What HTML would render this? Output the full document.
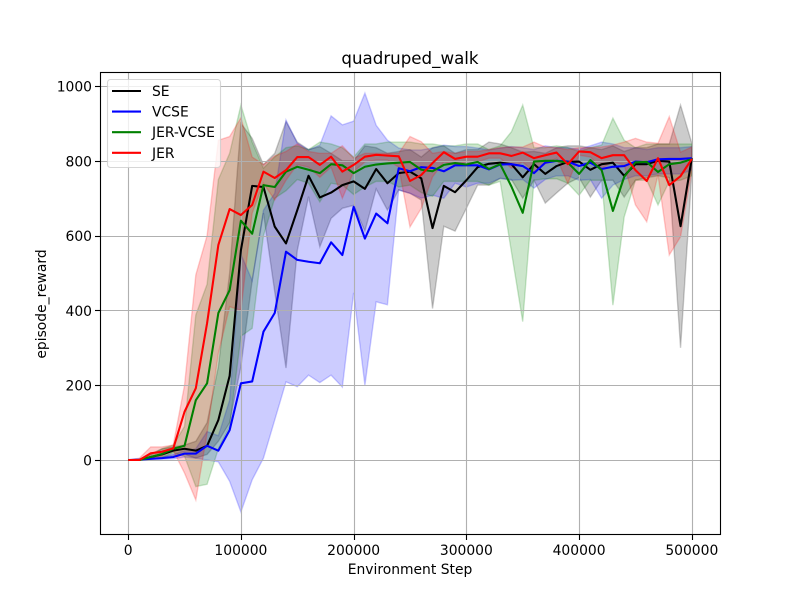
<!DOCTYPE html>
<html>
<head>
<meta charset="utf-8">
<title>quadruped_walk</title>
<style>
html,body{margin:0;padding:0;background:#fff}
svg{display:block}
text{font-family:"DejaVu Sans","Liberation Sans",sans-serif;fill:#000}
</style>
</head>
<body>
<svg id="chart" xmlns="http://www.w3.org/2000/svg" width="800" height="600" viewBox="0 0 800 600">
  <rect x="0" y="0" width="800" height="600" fill="#fff"/>
  <g id="bands"></g>
  <g id="grid"></g>
  <g id="lines"></g>
  <g id="ticks"></g>
  <rect x="100.5" y="72.5" width="620" height="462" fill="none" stroke="#000" stroke-width="1.11"/>
  <text x="410" y="64" font-size="16.67" text-anchor="middle">quadruped_walk</text>
  <text x="410" y="574" font-size="13.89" text-anchor="middle">Environment Step</text>
  <text x="0" y="0" font-size="13.89" text-anchor="middle" transform="translate(46 304) rotate(-90)">episode_reward</text>
  <g id="legend">
    <rect x="107.5" y="79.5" width="113" height="88" rx="3" ry="3" fill="#fff" fill-opacity="0.8" stroke="#ccc" stroke-opacity="0.8" stroke-width="1.11"/>
  </g>
</svg>
<script>
var xTickValues = [0, 100000, 200000, 300000, 400000, 500000];
var yTickValues = [0, 200, 400, 600, 800, 1000];
var stepSize = 10000;

var seriesNames = ["SE", "VCSE", "JER-VCSE", "JER"];
var seriesColors = ["#000000", "#0000ff", "#008000", "#ff0000"];

var seMean = [0,0,8,15,25,30,25,38,107,225,
  561,733,730,624,579,668,760,702,715,735,
  745,725,778,740,767,771,753,620,733,716,
  748,783,792,795,791,756,791,765,786,797,
  798,776,791,795,760,791,791,800,798,625,807];
var seUpper = [0,2,15,30,35,40,50,100,250,500,
  900,860,790,820,905,850,830,838,820,800,
  800,840,835,820,825,830,810,835,840,820,
  830,830,850,845,835,823,825,820,835,840,
  840,835,830,840,825,835,835,845,845,949,847];
var seLower = [0,0,3,6,12,15,5,15,50,100,
  250,480,660,450,246,560,704,570,646,673,
  681,612,725,668,722,713,695,405,625,612,
  673,735,735,753,750,700,748,687,714,740,
  755,703,748,748,703,748,755,760,755,300,767];

var vcseMean = [0,1,3,5,8,17,17,38,25,80,
  205,210,343,393,557,535,530,526,582,548,
  677,592,659,633,780,772,783,781,772,788,
  788,788,777,790,791,786,767,795,800,798,
  786,795,778,784,786,798,796,804,805,805,807];
var vcseUpper = [0,2,5,8,15,25,30,76,65,160,
  550,480,668,713,909,847,829,842,920,896,
  906,981,895,855,834,829,829,834,842,838,
  838,834,829,834,838,835,830,840,835,835,
  830,840,850,845,835,835,830,835,835,835,838];
var vcseLower = [0,0,1,2,3,8,5,0,-5,-57,
  -139,-53,5,107,209,196,227,207,227,195,
  447,200,423,415,722,713,700,708,700,740,
  730,740,740,753,748,750,727,750,760,760,
  748,750,700,735,750,760,760,765,765,765,775];

var jerVcseMean = [0,0,8,16,30,38,160,205,393,454,
  640,605,735,730,771,784,776,767,791,788,
  767,784,790,793,795,797,776,772,789,794,
  790,797,778,791,731,661,798,800,800,795,
  765,802,775,666,757,796,797,770,791,795,804];
var jerVcseUpper = [0,2,15,30,40,90,388,470,750,820,
  949,850,780,810,835,840,830,850,845,835,
  810,845,845,850,850,850,845,845,840,840,
  845,845,830,840,878,949,835,835,840,835,
  825,835,842,914,855,835,845,845,845,845,845];
var jerVcseLower = [0,0,3,5,20,10,-71,-65,30,90,
  331,352,600,700,720,750,740,690,740,735,
  710,730,745,745,730,735,715,705,745,745,
  745,745,735,745,556,370,748,752,752,740,
  708,748,748,414,650,748,748,682,745,748,760];

var jerMean = [0,0,18,22,31,129,192,366,575,671,
  655,682,771,754,775,810,810,789,811,771,
  789,811,816,814,812,746,762,794,823,805,
  811,811,820,820,813,822,807,815,822,791,
  825,823,807,815,815,775,746,807,735,759,805];
var jerUpper = [0,5,35,35,40,200,495,600,855,865,
  915,810,790,813,825,845,825,820,820,840,
  807,820,820,820,820,865,851,820,825,820,
  825,825,830,835,837,837,850,837,835,830,
  835,835,837,842,850,860,850,847,918,823,837];
var jerLower = [0,0,5,10,25,-35,-107,72,285,410,
  400,660,740,695,748,790,783,756,783,700,
  771,797,802,802,783,623,673,757,797,789,
  797,797,807,807,780,797,770,792,807,740,
  815,810,780,797,789,682,637,762,548,597,775];

var meanSeries = [seMean, vcseMean, jerVcseMean, jerMean];
var upperSeries = [seUpper, vcseUpper, jerVcseUpper, jerUpper];
var lowerSeries = [seLower, vcseLower, jerVcseLower, jerLower];

var NS = "http://www.w3.org/2000/svg";
function xScale(v) { return 128.18 + v * (563.64 / 500000); }
function yScale(v) { return 460 - v * 0.374; }
function snap(p) { return Math.floor(p + 0.5) + 0.5; }
function slug(s) { return s.toLowerCase(); }
function node(tag, parent) {
  var el = document.createElementNS(NS, tag);
  parent.appendChild(el);
  return el;
}
function pathFrom(values) {
  return values.map(function (v, i) {
    return (i ? "L" : "M") + xScale(i * stepSize).toFixed(2) + " " + yScale(v).toFixed(2);
  });
}

var bandsGroup = document.getElementById("bands");
var gridGroup = document.getElementById("grid");
var linesGroup = document.getElementById("lines");
var ticksGroup = document.getElementById("ticks");
var legendGroup = document.getElementById("legend");

seriesNames.forEach(function (name, s) {
  var up = pathFrom(upperSeries[s]);
  var lowPts = lowerSeries[s].map(function (v, i) {
    return "L" + xScale(i * stepSize).toFixed(2) + " " + yScale(v).toFixed(2);
  }).reverse();
  var band = node("path", bandsGroup);
  
  
  band.setAttribute("d", up.join("") + lowPts.join("") + "Z");
  band.setAttribute("fill", seriesColors[s]);
  band.setAttribute("fill-opacity", "0.2");
  band.setAttribute("stroke", seriesColors[s]);
  band.setAttribute("stroke-opacity", "0.2");
  band.setAttribute("stroke-width", "1.39");
});

xTickValues.forEach(function (v) {
  var px = snap(xScale(v));
  var g = node("line", gridGroup);
  
  
  g.setAttribute("x1", px); g.setAttribute("x2", px);
  g.setAttribute("y1", 72); g.setAttribute("y2", 534);
  g.setAttribute("stroke", "#b0b0b0"); g.setAttribute("stroke-width", "1.11");
  var t = node("line", ticksGroup);
  
  
  t.setAttribute("x1", px); t.setAttribute("x2", px);
  t.setAttribute("y1", 534); t.setAttribute("y2", 540);
  t.setAttribute("stroke", "#000"); t.setAttribute("stroke-width", "1.11");
  var l = node("text", ticksGroup);
  
  
  l.setAttribute("x", xScale(v));
  l.setAttribute("y", 555);
  l.setAttribute("font-size", "13.89");
  l.setAttribute("text-anchor", "middle");
  l.textContent = String(v);
});

yTickValues.forEach(function (v) {
  var py = snap(yScale(v));
  var g = node("line", gridGroup);
  
  
  g.setAttribute("x1", 100); g.setAttribute("x2", 720);
  g.setAttribute("y1", py); g.setAttribute("y2", py);
  g.setAttribute("stroke", "#b0b0b0"); g.setAttribute("stroke-width", "1.11");
  var t = node("line", ticksGroup);
  
  
  t.setAttribute("x1", 95); t.setAttribute("x2", 100);
  t.setAttribute("y1", py); t.setAttribute("y2", py);
  t.setAttribute("stroke", "#000"); t.setAttribute("stroke-width", "1.11");
  var l = node("text", ticksGroup);
  
  
  l.setAttribute("x", 92);
  l.setAttribute("y", yScale(v) + 5.5);
  l.setAttribute("font-size", "13.89");
  l.setAttribute("text-anchor", "end");
  l.textContent = String(v);
});

seriesNames.forEach(function (name, s) {
  var line = node("path", linesGroup);
  
  
  line.setAttribute("d", pathFrom(meanSeries[s]).join(""));
  line.setAttribute("fill", "none");
  line.setAttribute("stroke", seriesColors[s]);
  line.setAttribute("stroke-width", "2.08");
  line.setAttribute("stroke-linejoin", "round");
});

seriesNames.forEach(function (name, s) {
  var rowY = 91 + s * 20.6;
  var swatch = node("line", legendGroup);
  
  
  swatch.setAttribute("x1", 112); swatch.setAttribute("x2", 141);
  swatch.setAttribute("y1", rowY); swatch.setAttribute("y2", rowY);
  swatch.setAttribute("stroke", seriesColors[s]);
  swatch.setAttribute("stroke-width", "2.08");
  var label = node("text", legendGroup);
  
  
  label.setAttribute("x", 152);
  label.setAttribute("y", rowY + 5);
  label.setAttribute("font-size", "13.89");
  label.textContent = name;
});
</script>
</body>
</html>
